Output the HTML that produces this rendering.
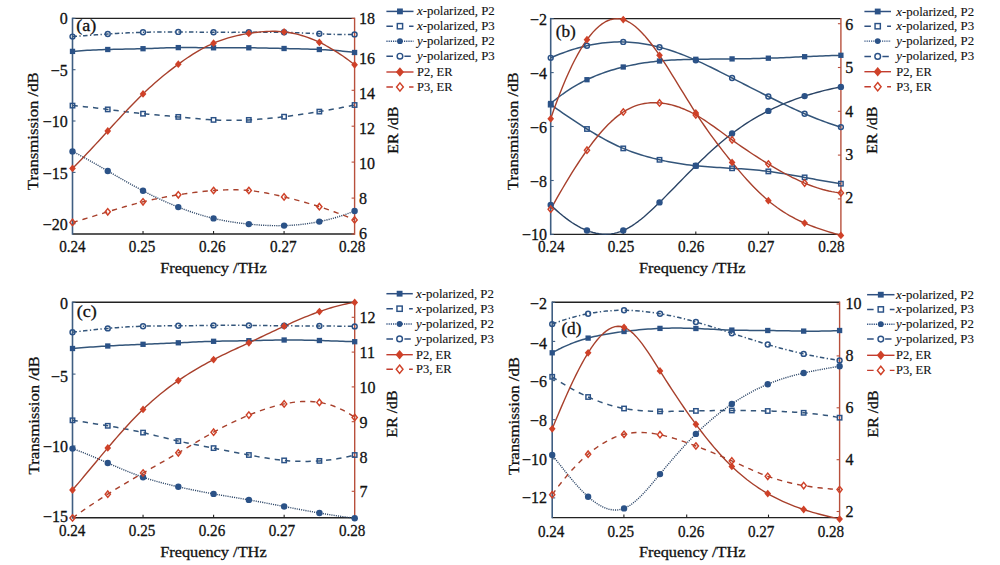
<!DOCTYPE html><html><head><meta charset="utf-8"><title>Transmission and ER vs frequency</title><style>html,body{margin:0;padding:0;background:#fff;}body{width:1000px;height:565px;overflow:hidden}svg{display:block}text{font-family:"Liberation Serif","DejaVu Serif",serif;fill:#111;stroke:#111;stroke-width:0.3px}.lg{stroke-width:0.12px}</style></head><body>
<svg width="1000" height="565" viewBox="0 0 1000 565">
<rect width="1000" height="565" fill="#fff"/>
<defs>
<clipPath id="clipa"><rect x="72.5" y="17.4" width="282.1" height="217.6"/></clipPath>
<clipPath id="clipb"><rect x="550.7" y="17.6" width="290.2" height="217.8"/></clipPath>
<clipPath id="clipc"><rect x="72.5" y="301.3" width="282.2" height="217.5"/></clipPath>
<clipPath id="clipd"><rect x="552.2" y="301.3" width="287.4" height="217.3"/></clipPath>
</defs>
<g id="plot-a"><line x1="72.5" y1="18.4" x2="354.6" y2="18.4" stroke="#222" stroke-width="1.4"/><line x1="72.5" y1="234" x2="354.6" y2="234" stroke="#222" stroke-width="1.4"/><line x1="72.5" y1="17.7" x2="72.5" y2="234.7" stroke="#3f5e82" stroke-width="1.6"/><line x1="354.6" y1="17.7" x2="354.6" y2="234.7" stroke="#b8503c" stroke-width="1.4"/><line x1="143.03" y1="234" x2="143.03" y2="231" stroke="#222" stroke-width="1.1"/><line x1="213.55" y1="234" x2="213.55" y2="231" stroke="#222" stroke-width="1.1"/><line x1="284.08" y1="234" x2="284.08" y2="231" stroke="#222" stroke-width="1.1"/><line x1="72.5" y1="18.4" x2="75.5" y2="18.4" stroke="#3f5e82" stroke-width="1.1"/><line x1="72.5" y1="69.7" x2="75.5" y2="69.7" stroke="#3f5e82" stroke-width="1.1"/><line x1="72.5" y1="121" x2="75.5" y2="121" stroke="#3f5e82" stroke-width="1.1"/><line x1="72.5" y1="172.4" x2="75.5" y2="172.4" stroke="#3f5e82" stroke-width="1.1"/><line x1="72.5" y1="223.7" x2="75.5" y2="223.7" stroke="#3f5e82" stroke-width="1.1"/><line x1="354.6" y1="234" x2="351.6" y2="234" stroke="#b8503c" stroke-width="1.1"/><line x1="354.6" y1="198.1" x2="351.6" y2="198.1" stroke="#b8503c" stroke-width="1.1"/><line x1="354.6" y1="162.1" x2="351.6" y2="162.1" stroke="#b8503c" stroke-width="1.1"/><line x1="354.6" y1="126.2" x2="351.6" y2="126.2" stroke="#b8503c" stroke-width="1.1"/><line x1="354.6" y1="90.3" x2="351.6" y2="90.3" stroke="#b8503c" stroke-width="1.1"/><line x1="354.6" y1="54.3" x2="351.6" y2="54.3" stroke="#b8503c" stroke-width="1.1"/><line x1="354.6" y1="18.4" x2="351.6" y2="18.4" stroke="#b8503c" stroke-width="1.1"/><g clip-path="url(#clipa)" fill="none" stroke-linejoin="round"><polyline points="72.5,51.4 75.44,51.14 78.38,50.9 81.32,50.69 84.25,50.49 87.19,50.32 90.13,50.16 93.07,50.02 96.01,49.89 98.95,49.77 101.89,49.67 104.82,49.58 107.76,49.5 110.7,49.43 113.64,49.36 116.58,49.29 119.52,49.23 122.46,49.18 125.39,49.12 128.33,49.06 131.27,49 134.21,48.93 137.15,48.86 140.09,48.79 143.03,48.7 145.96,48.61 148.9,48.5 151.84,48.4 154.78,48.29 157.72,48.18 160.66,48.07 163.59,47.97 166.53,47.87 169.47,47.79 172.41,47.71 175.35,47.65 178.29,47.6 181.23,47.57 184.16,47.56 187.1,47.56 190.04,47.57 192.98,47.59 195.92,47.62 198.86,47.65 201.8,47.69 204.73,47.72 207.67,47.75 210.61,47.78 213.55,47.8 216.49,47.81 219.43,47.82 222.37,47.81 225.3,47.81 228.24,47.8 231.18,47.79 234.12,47.78 237.06,47.77 240,47.77 242.94,47.77 245.87,47.78 248.81,47.8 251.75,47.83 254.69,47.86 257.63,47.91 260.57,47.96 263.51,48.02 266.44,48.08 269.38,48.15 272.32,48.22 275.26,48.29 278.2,48.36 281.14,48.43 284.08,48.5 287.01,48.57 289.95,48.63 292.89,48.69 295.83,48.76 298.77,48.83 301.71,48.9 304.64,48.98 307.58,49.06 310.52,49.16 313.46,49.26 316.4,49.37 319.34,49.5 322.28,49.64 325.21,49.8 328.15,49.97 331.09,50.16 334.03,50.37 336.97,50.6 339.91,50.85 342.85,51.13 345.78,51.43 348.72,51.76 351.66,52.11 354.6,52.5" stroke="#33557a" stroke-width="1.5"/><polyline points="72.5,105.6 75.44,105.83 78.38,106.09 81.32,106.36 84.25,106.65 87.19,106.96 90.13,107.28 93.07,107.61 96.01,107.95 98.95,108.3 101.89,108.66 104.82,109.03 107.76,109.4 110.7,109.77 113.64,110.15 116.58,110.53 119.52,110.91 122.46,111.28 125.39,111.65 128.33,112.01 131.27,112.37 134.21,112.72 137.15,113.06 140.09,113.39 143.03,113.7 145.96,114 148.9,114.29 151.84,114.57 154.78,114.84 157.72,115.1 160.66,115.35 163.59,115.61 166.53,115.86 169.47,116.12 172.41,116.37 175.35,116.63 178.29,116.9 181.23,117.18 184.16,117.46 187.1,117.74 190.04,118.02 192.98,118.3 195.92,118.57 198.86,118.83 201.8,119.08 204.73,119.32 207.67,119.54 210.61,119.73 213.55,119.9 216.49,120.04 219.43,120.16 222.37,120.25 225.3,120.31 228.24,120.35 231.18,120.36 234.12,120.35 237.06,120.31 240,120.24 242.94,120.15 245.87,120.04 248.81,119.9 251.75,119.74 254.69,119.56 257.63,119.35 260.57,119.12 263.51,118.88 266.44,118.61 269.38,118.33 272.32,118.04 275.26,117.72 278.2,117.39 281.14,117.05 284.08,116.7 287.01,116.34 289.95,115.96 292.89,115.57 295.83,115.17 298.77,114.77 301.71,114.35 304.64,113.91 307.58,113.47 310.52,113.02 313.46,112.56 316.4,112.08 319.34,111.6 322.28,111.11 325.21,110.6 328.15,110.09 331.09,109.56 334.03,109.03 336.97,108.48 339.91,107.92 342.85,107.36 345.78,106.78 348.72,106.2 351.66,105.6 354.6,105" stroke="#33557a" stroke-width="1.5" stroke-dasharray="5.3 5.0"/><polyline points="72.5,151.4 75.44,152.92 78.38,154.47 81.32,156.05 84.25,157.65 87.19,159.27 90.13,160.91 93.07,162.56 96.01,164.23 98.95,165.91 101.89,167.6 104.82,169.3 107.76,171 110.7,172.7 113.64,174.4 116.58,176.1 119.52,177.79 122.46,179.47 125.39,181.14 128.33,182.8 131.27,184.44 134.21,186.07 137.15,187.67 140.09,189.25 143.03,190.8 145.96,192.33 148.9,193.82 151.84,195.29 154.78,196.73 157.72,198.13 160.66,199.51 163.59,200.86 166.53,202.17 169.47,203.45 172.41,204.7 175.35,205.92 178.29,207.1 181.23,208.25 184.16,209.36 187.1,210.44 190.04,211.48 192.98,212.49 195.92,213.45 198.86,214.38 201.8,215.27 204.73,216.11 207.67,216.92 210.61,217.68 213.55,218.4 216.49,219.08 219.43,219.71 222.37,220.3 225.3,220.85 228.24,221.37 231.18,221.85 234.12,222.3 237.06,222.72 240,223.1 242.94,223.46 245.87,223.79 248.81,224.1 251.75,224.38 254.69,224.64 257.63,224.88 260.57,225.09 263.51,225.27 266.44,225.42 269.38,225.53 272.32,225.62 275.26,225.67 278.2,225.68 281.14,225.66 284.08,225.6 287.01,225.5 289.95,225.36 292.89,225.17 295.83,224.95 298.77,224.68 301.71,224.37 304.64,224.02 307.58,223.63 310.52,223.19 313.46,222.7 316.4,222.17 319.34,221.6 322.28,220.98 325.21,220.31 328.15,219.6 331.09,218.84 334.03,218.03 336.97,217.18 339.91,216.27 342.85,215.32 345.78,214.31 348.72,213.26 351.66,212.16 354.6,211" stroke="#2a4466" stroke-width="1.4" stroke-dasharray="1.1 1.1"/><polyline points="72.5,36.6 75.44,36.36 78.38,36.13 81.32,35.9 84.25,35.67 87.19,35.44 90.13,35.22 93.07,35.01 96.01,34.79 98.95,34.59 101.89,34.39 104.82,34.19 107.76,34 110.7,33.82 113.64,33.64 116.58,33.47 119.52,33.31 122.46,33.15 125.39,33 128.33,32.86 131.27,32.73 134.21,32.61 137.15,32.5 140.09,32.39 143.03,32.3 145.96,32.22 148.9,32.14 151.84,32.08 154.78,32.03 157.72,31.98 160.66,31.94 163.59,31.92 166.53,31.9 169.47,31.89 172.41,31.88 175.35,31.89 178.29,31.9 181.23,31.92 184.16,31.94 187.1,31.97 190.04,32.01 192.98,32.04 195.92,32.08 198.86,32.12 201.8,32.16 204.73,32.2 207.67,32.24 210.61,32.27 213.55,32.3 216.49,32.32 219.43,32.34 222.37,32.36 225.3,32.37 228.24,32.37 231.18,32.38 234.12,32.37 237.06,32.37 240,32.35 242.94,32.34 245.87,32.32 248.81,32.3 251.75,32.28 254.69,32.25 257.63,32.22 260.57,32.2 263.51,32.18 266.44,32.17 269.38,32.16 272.32,32.16 275.26,32.18 278.2,32.2 281.14,32.24 284.08,32.3 287.01,32.37 289.95,32.46 292.89,32.57 295.83,32.68 298.77,32.81 301.71,32.94 304.64,33.08 307.58,33.23 310.52,33.37 313.46,33.52 316.4,33.66 319.34,33.8 322.28,33.93 325.21,34.06 328.15,34.17 331.09,34.27 334.03,34.36 336.97,34.43 339.91,34.48 342.85,34.52 345.78,34.53 348.72,34.51 351.66,34.47 354.6,34.4" stroke="#33557a" stroke-width="1.5" stroke-dasharray="4.5 2.4 1.3 2.4"/><polyline points="72.5,168.4 75.44,165.49 78.38,162.52 81.32,159.51 84.25,156.45 87.19,153.35 90.13,150.22 93.07,147.06 96.01,143.87 98.95,140.67 101.89,137.45 104.82,134.23 107.76,131 110.7,127.77 113.64,124.56 116.58,121.35 119.52,118.16 122.46,115 125.39,111.86 128.33,108.75 131.27,105.69 134.21,102.66 137.15,99.69 140.09,96.76 143.03,93.9 145.96,91.1 148.9,88.36 151.84,85.68 154.78,83.07 157.72,80.51 160.66,78.02 163.59,75.58 166.53,73.19 169.47,70.86 172.41,68.59 175.35,66.37 178.29,64.2 181.23,62.08 184.16,60.02 187.1,58.02 190.04,56.08 192.98,54.2 195.92,52.39 198.86,50.66 201.8,49 204.73,47.42 207.67,45.93 210.61,44.52 213.55,43.2 216.49,41.97 219.43,40.84 222.37,39.79 225.3,38.82 228.24,37.92 231.18,37.1 234.12,36.34 237.06,35.65 240,35.01 242.94,34.43 245.87,33.89 248.81,33.4 251.75,32.95 254.69,32.55 257.63,32.19 260.57,31.89 263.51,31.64 266.44,31.46 269.38,31.34 272.32,31.29 275.26,31.32 278.2,31.43 281.14,31.62 284.08,31.9 287.01,32.27 289.95,32.74 292.89,33.29 295.83,33.94 298.77,34.68 301.71,35.51 304.64,36.42 307.58,37.42 310.52,38.52 313.46,39.69 316.4,40.95 319.34,42.3 322.28,43.73 325.21,45.24 328.15,46.84 331.09,48.52 334.03,50.28 336.97,52.12 339.91,54.04 342.85,56.04 345.78,58.11 348.72,60.26 351.66,62.49 354.6,64.8" stroke="#a8402c" stroke-width="1.4"/><polyline points="72.5,222.4 75.44,221.57 78.38,220.73 81.32,219.87 84.25,219 87.19,218.12 90.13,217.23 93.07,216.33 96.01,215.43 98.95,214.52 101.89,213.61 104.82,212.7 107.76,211.8 110.7,210.9 113.64,210 116.58,209.12 119.52,208.24 122.46,207.38 125.39,206.52 128.33,205.69 131.27,204.87 134.21,204.07 137.15,203.29 140.09,202.53 143.03,201.8 145.96,201.09 148.9,200.41 151.84,199.76 154.78,199.13 157.72,198.52 160.66,197.93 163.59,197.36 166.53,196.81 169.47,196.28 172.41,195.77 175.35,195.28 178.29,194.8 181.23,194.34 184.16,193.89 187.1,193.46 190.04,193.04 192.98,192.65 195.92,192.27 198.86,191.92 201.8,191.59 204.73,191.28 207.67,190.99 210.61,190.73 213.55,190.5 216.49,190.29 219.43,190.12 222.37,189.97 225.3,189.86 228.24,189.79 231.18,189.75 234.12,189.76 237.06,189.81 240,189.91 242.94,190.05 245.87,190.25 248.81,190.5 251.75,190.81 254.69,191.16 257.63,191.57 260.57,192.03 263.51,192.52 266.44,193.06 269.38,193.63 272.32,194.23 275.26,194.86 278.2,195.52 281.14,196.2 284.08,196.9 287.01,197.62 289.95,198.35 292.89,199.1 295.83,199.86 298.77,200.64 301.71,201.45 304.64,202.27 307.58,203.11 310.52,203.98 313.46,204.86 316.4,205.77 319.34,206.7 322.28,207.65 325.21,208.63 328.15,209.64 331.09,210.66 334.03,211.72 336.97,212.8 339.91,213.91 342.85,215.05 345.78,216.22 348.72,217.41 351.66,218.64 354.6,219.9" stroke="#a8402c" stroke-width="1.4" stroke-dasharray="5.3 5.0"/></g><rect x="69.85" y="48.75" width="5.3" height="5.3" fill="#2b5287"/><rect x="105.11" y="46.85" width="5.3" height="5.3" fill="#2b5287"/><rect x="140.38" y="46.05" width="5.3" height="5.3" fill="#2b5287"/><rect x="175.64" y="44.95" width="5.3" height="5.3" fill="#2b5287"/><rect x="210.9" y="45.15" width="5.3" height="5.3" fill="#2b5287"/><rect x="246.16" y="45.15" width="5.3" height="5.3" fill="#2b5287"/><rect x="281.43" y="45.85" width="5.3" height="5.3" fill="#2b5287"/><rect x="316.69" y="46.85" width="5.3" height="5.3" fill="#2b5287"/><rect x="351.95" y="49.85" width="5.3" height="5.3" fill="#2b5287"/><rect x="70.3" y="103.4" width="4.4" height="4.4" fill="none" stroke="#2b5287" stroke-width="1.45"/><rect x="105.56" y="107.2" width="4.4" height="4.4" fill="none" stroke="#2b5287" stroke-width="1.45"/><rect x="140.83" y="111.5" width="4.4" height="4.4" fill="none" stroke="#2b5287" stroke-width="1.45"/><rect x="176.09" y="114.7" width="4.4" height="4.4" fill="none" stroke="#2b5287" stroke-width="1.45"/><rect x="211.35" y="117.7" width="4.4" height="4.4" fill="none" stroke="#2b5287" stroke-width="1.45"/><rect x="246.61" y="117.7" width="4.4" height="4.4" fill="none" stroke="#2b5287" stroke-width="1.45"/><rect x="281.88" y="114.5" width="4.4" height="4.4" fill="none" stroke="#2b5287" stroke-width="1.45"/><rect x="317.14" y="109.4" width="4.4" height="4.4" fill="none" stroke="#2b5287" stroke-width="1.45"/><rect x="352.4" y="102.8" width="4.4" height="4.4" fill="none" stroke="#2b5287" stroke-width="1.45"/><circle cx="72.5" cy="151.4" r="3.2" fill="#2b5287"/><circle cx="107.76" cy="171" r="3.2" fill="#2b5287"/><circle cx="143.03" cy="190.8" r="3.2" fill="#2b5287"/><circle cx="178.29" cy="207.1" r="3.2" fill="#2b5287"/><circle cx="213.55" cy="218.4" r="3.2" fill="#2b5287"/><circle cx="248.81" cy="224.1" r="3.2" fill="#2b5287"/><circle cx="284.08" cy="225.6" r="3.2" fill="#2b5287"/><circle cx="319.34" cy="221.6" r="3.2" fill="#2b5287"/><circle cx="354.6" cy="211" r="3.2" fill="#2b5287"/><circle cx="72.5" cy="36.6" r="2.45" fill="none" stroke="#2b5287" stroke-width="1.45"/><circle cx="107.76" cy="34" r="2.45" fill="none" stroke="#2b5287" stroke-width="1.45"/><circle cx="143.03" cy="32.3" r="2.45" fill="none" stroke="#2b5287" stroke-width="1.45"/><circle cx="178.29" cy="31.9" r="2.45" fill="none" stroke="#2b5287" stroke-width="1.45"/><circle cx="213.55" cy="32.3" r="2.45" fill="none" stroke="#2b5287" stroke-width="1.45"/><circle cx="248.81" cy="32.3" r="2.45" fill="none" stroke="#2b5287" stroke-width="1.45"/><circle cx="284.08" cy="32.3" r="2.45" fill="none" stroke="#2b5287" stroke-width="1.45"/><circle cx="319.34" cy="33.8" r="2.45" fill="none" stroke="#2b5287" stroke-width="1.45"/><circle cx="354.6" cy="34.4" r="2.45" fill="none" stroke="#2b5287" stroke-width="1.45"/><path d="M72.5 164.5L75.85 168.4L72.5 172.3L69.15 168.4Z" fill="#cf4128"/><path d="M107.76 127.1L111.11 131L107.76 134.9L104.41 131Z" fill="#cf4128"/><path d="M143.03 90L146.38 93.9L143.03 97.8L139.68 93.9Z" fill="#cf4128"/><path d="M178.29 60.3L181.64 64.2L178.29 68.1L174.94 64.2Z" fill="#cf4128"/><path d="M213.55 39.3L216.9 43.2L213.55 47.1L210.2 43.2Z" fill="#cf4128"/><path d="M248.81 29.5L252.16 33.4L248.81 37.3L245.46 33.4Z" fill="#cf4128"/><path d="M284.08 28L287.43 31.9L284.08 35.8L280.73 31.9Z" fill="#cf4128"/><path d="M319.34 38.4L322.69 42.3L319.34 46.2L315.99 42.3Z" fill="#cf4128"/><path d="M354.6 60.9L357.95 64.8L354.6 68.7L351.25 64.8Z" fill="#cf4128"/><path d="M72.5 219.2L75.1 222.4L72.5 225.6L69.9 222.4Z" fill="none" stroke="#cf4128" stroke-width="1.45"/><path d="M107.76 208.6L110.36 211.8L107.76 215L105.16 211.8Z" fill="none" stroke="#cf4128" stroke-width="1.45"/><path d="M143.03 198.6L145.62 201.8L143.03 205L140.43 201.8Z" fill="none" stroke="#cf4128" stroke-width="1.45"/><path d="M178.29 191.6L180.89 194.8L178.29 198L175.69 194.8Z" fill="none" stroke="#cf4128" stroke-width="1.45"/><path d="M213.55 187.3L216.15 190.5L213.55 193.7L210.95 190.5Z" fill="none" stroke="#cf4128" stroke-width="1.45"/><path d="M248.81 187.3L251.41 190.5L248.81 193.7L246.21 190.5Z" fill="none" stroke="#cf4128" stroke-width="1.45"/><path d="M284.08 193.7L286.68 196.9L284.08 200.1L281.48 196.9Z" fill="none" stroke="#cf4128" stroke-width="1.45"/><path d="M319.34 203.5L321.94 206.7L319.34 209.9L316.74 206.7Z" fill="none" stroke="#cf4128" stroke-width="1.45"/><path d="M354.6 216.7L357.2 219.9L354.6 223.1L352 219.9Z" fill="none" stroke="#cf4128" stroke-width="1.45"/><text x="67.8" y="24.35" font-size="16" text-anchor="end">0</text><text x="67.8" y="76.45" font-size="16" text-anchor="end">−5</text><text x="67.8" y="127.25" font-size="16" text-anchor="end">−10</text><text x="67.8" y="178.75" font-size="16" text-anchor="end">−15</text><text x="67.8" y="230.35" font-size="16" text-anchor="end">−20</text><text x="359" y="238.85" font-size="16">6</text><text x="359" y="204.45" font-size="16">8</text><text x="359" y="168.85" font-size="16">10</text><text x="359" y="134.35" font-size="16">12</text><text x="359" y="99.25" font-size="16">14</text><text x="359" y="63.95" font-size="16">16</text><text x="359" y="24.45" font-size="16">18</text><text x="72.4" y="251.95" font-size="16" text-anchor="middle" textLength="26.5" lengthAdjust="spacingAndGlyphs">0.24</text><text x="142.1" y="251.95" font-size="16" text-anchor="middle" textLength="26.5" lengthAdjust="spacingAndGlyphs">0.25</text><text x="212.3" y="251.95" font-size="16" text-anchor="middle" textLength="26.5" lengthAdjust="spacingAndGlyphs">0.26</text><text x="283.3" y="251.95" font-size="16" text-anchor="middle" textLength="26.5" lengthAdjust="spacingAndGlyphs">0.27</text><text x="352.2" y="251.95" font-size="16" text-anchor="middle" textLength="26.5" lengthAdjust="spacingAndGlyphs">0.28</text><text x="213.4" y="273.2" font-size="15" text-anchor="middle" textLength="106.5" lengthAdjust="spacingAndGlyphs">Frequency /THz</text><text transform="translate(37.8,131.2) rotate(-90)" x="0" y="0" font-size="15" text-anchor="middle" textLength="118" lengthAdjust="spacingAndGlyphs">Transmission /dB</text><text transform="translate(398.2,130.2) rotate(-90)" x="0" y="0" font-size="15" text-anchor="middle" textLength="47" lengthAdjust="spacingAndGlyphs">ER /dB</text><text x="76.2" y="30.7" font-size="16" textLength="20" lengthAdjust="spacingAndGlyphs">(a)</text><line x1="386.4" y1="11.4" x2="413.5" y2="11.4" stroke="#2f5080" stroke-width="1.5"/><rect x="397.03" y="8.48" width="5.83" height="5.83" fill="#2b5287"/><text x="417" y="15.4" class="lg" font-size="12.5" textLength="77.8" lengthAdjust="spacingAndGlyphs"><tspan font-style="italic">x</tspan>-polarized, P2</text><line x1="386.4" y1="26.2" x2="413.5" y2="26.2" stroke="#2f5080" stroke-width="1.5" stroke-dasharray="6.5 16.2 6"/><rect x="397.31" y="23.56" width="5.28" height="5.28" fill="none" stroke="#2b5287" stroke-width="1.45"/><text x="417" y="30.2" class="lg" font-size="12.5" textLength="77.8" lengthAdjust="spacingAndGlyphs"><tspan font-style="italic">x</tspan>-polarized, P3</text><line x1="386.4" y1="41.2" x2="413.5" y2="41.2" stroke="#2f5080" stroke-width="1.4" stroke-dasharray="1.2 1.0"/><circle cx="399.95" cy="41.2" r="2.88" fill="#2b5287"/><text x="417" y="45.2" class="lg" font-size="12.5" textLength="77.8" lengthAdjust="spacingAndGlyphs"><tspan font-style="italic">y</tspan>-polarized, P2</text><line x1="386.4" y1="56.2" x2="413.5" y2="56.2" stroke="#2f5080" stroke-width="1.5" stroke-dasharray="6.6 11.4 6.4 10"/><circle cx="399.95" cy="56.2" r="2.82" fill="none" stroke="#2b5287" stroke-width="1.45"/><text x="417" y="60.2" class="lg" font-size="12.5" textLength="77.8" lengthAdjust="spacingAndGlyphs"><tspan font-style="italic">y</tspan>-polarized, P3</text><line x1="386.4" y1="72" x2="413.5" y2="72" stroke="#c23c2e" stroke-width="1.4"/><path d="M399.95 67.32L403.97 72L399.95 76.68L395.93 72Z" fill="#cf4128"/><text x="417" y="76" class="lg" font-size="12.5" textLength="35.5" lengthAdjust="spacingAndGlyphs">P2, ER</text><line x1="386.4" y1="87" x2="413.5" y2="87" stroke="#c23c2e" stroke-width="1.4" stroke-dasharray="6.5 16.2 6"/><path d="M399.95 82.84L403.33 87L399.95 91.16L396.57 87Z" fill="none" stroke="#cf4128" stroke-width="1.45"/><text x="417" y="91" class="lg" font-size="12.5" textLength="35.5" lengthAdjust="spacingAndGlyphs">P3, ER</text></g>
<g id="plot-b"><line x1="550.7" y1="18.6" x2="840.9" y2="18.6" stroke="#222" stroke-width="1.4"/><line x1="550.7" y1="234.4" x2="840.9" y2="234.4" stroke="#222" stroke-width="1.4"/><line x1="550.7" y1="17.9" x2="550.7" y2="235.1" stroke="#3f5e82" stroke-width="1.6"/><line x1="840.9" y1="17.9" x2="840.9" y2="235.1" stroke="#b8503c" stroke-width="1.4"/><line x1="623.25" y1="234.4" x2="623.25" y2="231.4" stroke="#222" stroke-width="1.1"/><line x1="695.8" y1="234.4" x2="695.8" y2="231.4" stroke="#222" stroke-width="1.1"/><line x1="768.35" y1="234.4" x2="768.35" y2="231.4" stroke="#222" stroke-width="1.1"/><line x1="550.7" y1="18.6" x2="553.7" y2="18.6" stroke="#3f5e82" stroke-width="1.1"/><line x1="550.7" y1="72.6" x2="553.7" y2="72.6" stroke="#3f5e82" stroke-width="1.1"/><line x1="550.7" y1="126.5" x2="553.7" y2="126.5" stroke="#3f5e82" stroke-width="1.1"/><line x1="550.7" y1="180.5" x2="553.7" y2="180.5" stroke="#3f5e82" stroke-width="1.1"/><line x1="550.7" y1="234.4" x2="553.7" y2="234.4" stroke="#3f5e82" stroke-width="1.1"/><line x1="840.9" y1="23.7" x2="837.9" y2="23.7" stroke="#b8503c" stroke-width="1.1"/><line x1="840.9" y1="67.5" x2="837.9" y2="67.5" stroke="#b8503c" stroke-width="1.1"/><line x1="840.9" y1="111.3" x2="837.9" y2="111.3" stroke="#b8503c" stroke-width="1.1"/><line x1="840.9" y1="155.1" x2="837.9" y2="155.1" stroke="#b8503c" stroke-width="1.1"/><line x1="840.9" y1="198.9" x2="837.9" y2="198.9" stroke="#b8503c" stroke-width="1.1"/><g clip-path="url(#clipb)" fill="none" stroke-linejoin="round"><polyline points="550.7,103.5 553.72,100.97 556.75,98.55 559.77,96.24 562.79,94.02 565.81,91.91 568.84,89.9 571.86,87.98 574.88,86.15 577.91,84.41 580.93,82.76 583.95,81.19 586.98,79.7 590,78.29 593.02,76.95 596.04,75.68 599.07,74.48 602.09,73.35 605.11,72.28 608.14,71.26 611.16,70.31 614.18,69.41 617.2,68.56 620.23,67.76 623.25,67 626.27,66.29 629.3,65.61 632.32,64.98 635.34,64.39 638.36,63.84 641.39,63.32 644.41,62.85 647.43,62.41 650.46,62 653.48,61.64 656.5,61.3 659.52,61 662.55,60.73 665.57,60.49 668.59,60.28 671.62,60.1 674.64,59.94 677.66,59.8 680.69,59.68 683.71,59.58 686.73,59.49 689.75,59.42 692.78,59.36 695.8,59.3 698.82,59.25 701.85,59.21 704.87,59.17 707.89,59.13 710.91,59.1 713.94,59.07 716.96,59.04 719.98,59.01 723.01,58.99 726.03,58.96 729.05,58.93 732.08,58.9 735.1,58.87 738.12,58.83 741.14,58.79 744.17,58.75 747.19,58.7 750.21,58.64 753.24,58.59 756.26,58.52 759.28,58.45 762.3,58.37 765.33,58.29 768.35,58.2 771.37,58.1 774.4,58 777.42,57.88 780.44,57.76 783.46,57.64 786.49,57.51 789.51,57.38 792.53,57.25 795.56,57.11 798.58,56.98 801.6,56.84 804.62,56.7 807.65,56.56 810.67,56.43 813.69,56.29 816.72,56.16 819.74,56.03 822.76,55.91 825.79,55.79 828.81,55.68 831.83,55.57 834.85,55.47 837.88,55.38 840.9,55.3" stroke="#33557a" stroke-width="1.5"/><polyline points="550.7,104.6 553.72,106.71 556.75,108.82 559.77,110.92 562.79,113.01 565.81,115.08 568.84,117.14 571.86,119.18 574.88,121.2 577.91,123.19 580.93,125.16 583.95,127.09 586.98,129 590,130.87 593.02,132.7 596.04,134.5 599.07,136.25 602.09,137.95 605.11,139.61 608.14,141.22 611.16,142.77 614.18,144.27 617.2,145.71 620.23,147.09 623.25,148.4 626.27,149.65 629.3,150.83 632.32,151.96 635.34,153.02 638.36,154.03 641.39,154.99 644.41,155.9 647.43,156.76 650.46,157.58 653.48,158.36 656.5,159.09 659.52,159.8 662.55,160.47 665.57,161.11 668.59,161.72 671.62,162.3 674.64,162.85 677.66,163.36 680.69,163.84 683.71,164.3 686.73,164.72 689.75,165.11 692.78,165.47 695.8,165.8 698.82,166.1 701.85,166.37 704.87,166.62 707.89,166.85 710.91,167.06 713.94,167.26 716.96,167.44 719.98,167.62 723.01,167.79 726.03,167.96 729.05,168.13 732.08,168.3 735.1,168.48 738.12,168.67 741.14,168.86 744.17,169.07 747.19,169.3 750.21,169.54 753.24,169.79 756.26,170.07 759.28,170.37 762.3,170.69 765.33,171.03 768.35,171.4 771.37,171.8 774.4,172.22 777.42,172.67 780.44,173.14 783.46,173.62 786.49,174.13 789.51,174.65 792.53,175.18 795.56,175.73 798.58,176.28 801.6,176.84 804.62,177.4 807.65,177.96 810.67,178.53 813.69,179.09 816.72,179.65 819.74,180.2 822.76,180.75 825.79,181.28 828.81,181.8 831.83,182.3 834.85,182.79 837.88,183.25 840.9,183.7" stroke="#33557a" stroke-width="1.5"/><polyline points="550.7,205 553.72,207.88 556.75,210.64 559.77,213.28 562.79,215.79 565.81,218.16 568.84,220.38 571.86,222.47 574.88,224.4 577.91,226.17 580.93,227.78 583.95,229.23 586.98,230.5 590,231.6 593.02,232.51 596.04,233.24 599.07,233.77 602.09,234.11 605.11,234.24 608.14,234.17 611.16,233.88 614.18,233.38 617.2,232.65 620.23,231.69 623.25,230.5 626.27,229.07 629.3,227.43 632.32,225.57 635.34,223.53 638.36,221.32 641.39,218.95 644.41,216.44 647.43,213.81 650.46,211.08 653.48,208.25 656.5,205.35 659.52,202.4 662.55,199.41 665.57,196.38 668.59,193.32 671.62,190.25 674.64,187.16 677.66,184.07 680.69,180.97 683.71,177.88 686.73,174.8 689.75,171.74 692.78,168.71 695.8,165.7 698.82,162.73 701.85,159.8 704.87,156.92 707.89,154.08 710.91,151.3 713.94,148.57 716.96,145.89 719.98,143.28 723.01,140.73 726.03,138.25 729.05,135.84 732.08,133.5 735.1,131.24 738.12,129.06 741.14,126.95 744.17,124.91 747.19,122.94 750.21,121.03 753.24,119.19 756.26,117.42 759.28,115.7 762.3,114.05 765.33,112.45 768.35,110.9 771.37,109.41 774.4,107.96 777.42,106.57 780.44,105.23 783.46,103.93 786.49,102.68 789.51,101.48 792.53,100.32 795.56,99.2 798.58,98.13 801.6,97.09 804.62,96.1 807.65,95.15 810.67,94.23 813.69,93.35 816.72,92.51 819.74,91.7 822.76,90.92 825.79,90.17 828.81,89.46 831.83,88.78 834.85,88.13 837.88,87.5 840.9,86.9" stroke="#2a4466" stroke-width="1.4"/><polyline points="550.7,57.8 553.72,56.51 556.75,55.26 559.77,54.07 562.79,52.93 565.81,51.83 568.84,50.79 571.86,49.81 574.88,48.88 577.91,48 580.93,47.18 583.95,46.41 586.98,45.7 590,45.05 593.02,44.45 596.04,43.92 599.07,43.45 602.09,43.03 605.11,42.68 608.14,42.39 611.16,42.16 614.18,42 617.2,41.9 620.23,41.87 623.25,41.9 626.27,42 629.3,42.16 632.32,42.39 635.34,42.69 638.36,43.04 641.39,43.46 644.41,43.94 647.43,44.47 650.46,45.07 653.48,45.72 656.5,46.43 659.52,47.2 662.55,48.02 665.57,48.89 668.59,49.82 671.62,50.79 674.64,51.81 677.66,52.88 680.69,54 683.71,55.16 686.73,56.36 689.75,57.6 692.78,58.88 695.8,60.2 698.82,61.56 701.85,62.94 704.87,64.36 707.89,65.81 710.91,67.28 713.94,68.77 716.96,70.28 719.98,71.81 723.01,73.35 726.03,74.89 729.05,76.44 732.08,78 735.1,79.56 738.12,81.11 741.14,82.66 744.17,84.22 747.19,85.77 750.21,87.31 753.24,88.86 756.26,90.4 759.28,91.93 762.3,93.46 765.33,94.98 768.35,96.5 771.37,98.01 774.4,99.51 777.42,101 780.44,102.48 783.46,103.95 786.49,105.4 789.51,106.83 792.53,108.25 795.56,109.65 798.58,111.02 801.6,112.37 804.62,113.7 807.65,115 810.67,116.27 813.69,117.52 816.72,118.73 819.74,119.91 822.76,121.05 825.79,122.16 828.81,123.23 831.83,124.26 834.85,125.25 837.88,126.2 840.9,127.1" stroke="#33557a" stroke-width="1.5"/><polyline points="550.7,118.8 553.72,110.07 556.75,101.72 559.77,93.75 562.79,86.17 565.81,78.97 568.84,72.17 571.86,65.76 574.88,59.74 577.91,54.13 580.93,48.91 583.95,44.1 586.98,39.7 590,35.71 593.02,32.13 596.04,28.96 599.07,26.21 602.09,23.89 605.11,21.98 608.14,20.5 611.16,19.45 614.18,18.84 617.2,18.65 620.23,18.91 623.25,19.6 626.27,20.73 629.3,22.28 632.32,24.22 635.34,26.53 638.36,29.18 641.39,32.16 644.41,35.42 647.43,38.96 650.46,42.74 653.48,46.74 656.5,50.93 659.52,55.3 662.55,59.81 665.57,64.45 668.59,69.19 671.62,74.01 674.64,78.9 677.66,83.82 680.69,88.76 683.71,93.7 686.73,98.61 689.75,103.48 692.78,108.29 695.8,113 698.82,117.61 701.85,122.11 704.87,126.52 707.89,130.83 710.91,135.04 713.94,139.18 716.96,143.22 719.98,147.2 723.01,151.1 726.03,154.93 729.05,158.69 732.08,162.4 735.1,166.05 738.12,169.64 741.14,173.16 744.17,176.61 747.19,179.97 750.21,183.25 753.24,186.44 756.26,189.52 759.28,192.49 762.3,195.35 765.33,198.09 768.35,200.7 771.37,203.18 774.4,205.53 777.42,207.75 780.44,209.86 783.46,211.85 786.49,213.74 789.51,215.53 792.53,217.21 795.56,218.81 798.58,220.32 801.6,221.75 804.62,223.1 807.65,224.38 810.67,225.6 813.69,226.76 816.72,227.87 819.74,228.92 822.76,229.93 825.79,230.91 828.81,231.85 831.83,232.77 834.85,233.66 837.88,234.53 840.9,235.4" stroke="#a8402c" stroke-width="1.4"/><polyline points="550.7,209.2 553.72,203.8 556.75,198.47 559.77,193.2 562.79,188.01 565.81,182.91 568.84,177.9 571.86,172.99 574.88,168.19 577.91,163.5 580.93,158.94 583.95,154.5 586.98,150.2 590,146.05 593.02,142.04 596.04,138.2 599.07,134.52 602.09,131.02 605.11,127.7 608.14,124.57 611.16,121.63 614.18,118.9 617.2,116.38 620.23,114.08 623.25,112 626.27,110.15 629.3,108.53 632.32,107.13 635.34,105.94 638.36,104.94 641.39,104.14 644.41,103.52 647.43,103.08 650.46,102.81 653.48,102.69 656.5,102.72 659.52,102.9 662.55,103.21 665.57,103.66 668.59,104.23 671.62,104.93 674.64,105.76 677.66,106.71 680.69,107.78 683.71,108.98 686.73,110.29 689.75,111.71 692.78,113.25 695.8,114.9 698.82,116.66 701.85,118.51 704.87,120.46 707.89,122.47 710.91,124.55 713.94,126.68 716.96,128.85 719.98,131.05 723.01,133.27 726.03,135.49 729.05,137.7 732.08,139.9 735.1,142.07 738.12,144.21 741.14,146.32 744.17,148.4 747.19,150.45 750.21,152.47 753.24,154.47 756.26,156.43 759.28,158.37 762.3,160.27 765.33,162.15 768.35,164 771.37,165.82 774.4,167.61 777.42,169.36 780.44,171.08 783.46,172.76 786.49,174.39 789.51,175.97 792.53,177.51 795.56,178.99 798.58,180.42 801.6,181.79 804.62,183.1 807.65,184.34 810.67,185.52 813.69,186.62 816.72,187.66 819.74,188.61 822.76,189.49 825.79,190.28 828.81,190.99 831.83,191.61 834.85,192.13 837.88,192.57 840.9,192.9" stroke="#a8402c" stroke-width="1.4"/></g><rect x="548.05" y="100.85" width="5.3" height="5.3" fill="#2b5287"/><rect x="584.33" y="77.05" width="5.3" height="5.3" fill="#2b5287"/><rect x="620.6" y="64.35" width="5.3" height="5.3" fill="#2b5287"/><rect x="656.88" y="58.35" width="5.3" height="5.3" fill="#2b5287"/><rect x="693.15" y="56.65" width="5.3" height="5.3" fill="#2b5287"/><rect x="729.43" y="56.25" width="5.3" height="5.3" fill="#2b5287"/><rect x="765.7" y="55.55" width="5.3" height="5.3" fill="#2b5287"/><rect x="801.98" y="54.05" width="5.3" height="5.3" fill="#2b5287"/><rect x="838.25" y="52.65" width="5.3" height="5.3" fill="#2b5287"/><rect x="548.5" y="102.4" width="4.4" height="4.4" fill="none" stroke="#2b5287" stroke-width="1.45"/><rect x="584.77" y="126.8" width="4.4" height="4.4" fill="none" stroke="#2b5287" stroke-width="1.45"/><rect x="621.05" y="146.2" width="4.4" height="4.4" fill="none" stroke="#2b5287" stroke-width="1.45"/><rect x="657.32" y="157.6" width="4.4" height="4.4" fill="none" stroke="#2b5287" stroke-width="1.45"/><rect x="693.6" y="163.6" width="4.4" height="4.4" fill="none" stroke="#2b5287" stroke-width="1.45"/><rect x="729.88" y="166.1" width="4.4" height="4.4" fill="none" stroke="#2b5287" stroke-width="1.45"/><rect x="766.15" y="169.2" width="4.4" height="4.4" fill="none" stroke="#2b5287" stroke-width="1.45"/><rect x="802.42" y="175.2" width="4.4" height="4.4" fill="none" stroke="#2b5287" stroke-width="1.45"/><rect x="838.7" y="181.5" width="4.4" height="4.4" fill="none" stroke="#2b5287" stroke-width="1.45"/><circle cx="550.7" cy="205" r="3.2" fill="#2b5287"/><circle cx="586.98" cy="230.5" r="3.2" fill="#2b5287"/><circle cx="623.25" cy="230.5" r="3.2" fill="#2b5287"/><circle cx="659.52" cy="202.4" r="3.2" fill="#2b5287"/><circle cx="695.8" cy="165.7" r="3.2" fill="#2b5287"/><circle cx="732.08" cy="133.5" r="3.2" fill="#2b5287"/><circle cx="768.35" cy="110.9" r="3.2" fill="#2b5287"/><circle cx="804.62" cy="96.1" r="3.2" fill="#2b5287"/><circle cx="840.9" cy="86.9" r="3.2" fill="#2b5287"/><circle cx="550.7" cy="57.8" r="2.45" fill="none" stroke="#2b5287" stroke-width="1.45"/><circle cx="586.98" cy="45.7" r="2.45" fill="none" stroke="#2b5287" stroke-width="1.45"/><circle cx="623.25" cy="41.9" r="2.45" fill="none" stroke="#2b5287" stroke-width="1.45"/><circle cx="659.52" cy="47.2" r="2.45" fill="none" stroke="#2b5287" stroke-width="1.45"/><circle cx="695.8" cy="60.2" r="2.45" fill="none" stroke="#2b5287" stroke-width="1.45"/><circle cx="732.08" cy="78" r="2.45" fill="none" stroke="#2b5287" stroke-width="1.45"/><circle cx="768.35" cy="96.5" r="2.45" fill="none" stroke="#2b5287" stroke-width="1.45"/><circle cx="804.62" cy="113.7" r="2.45" fill="none" stroke="#2b5287" stroke-width="1.45"/><circle cx="840.9" cy="127.1" r="2.45" fill="none" stroke="#2b5287" stroke-width="1.45"/><path d="M550.7 114.9L554.05 118.8L550.7 122.7L547.35 118.8Z" fill="#cf4128"/><path d="M586.98 35.8L590.33 39.7L586.98 43.6L583.62 39.7Z" fill="#cf4128"/><path d="M623.25 15.7L626.6 19.6L623.25 23.5L619.9 19.6Z" fill="#cf4128"/><path d="M659.52 51.4L662.88 55.3L659.52 59.2L656.17 55.3Z" fill="#cf4128"/><path d="M695.8 109.1L699.15 113L695.8 116.9L692.45 113Z" fill="#cf4128"/><path d="M732.08 158.5L735.43 162.4L732.08 166.3L728.73 162.4Z" fill="#cf4128"/><path d="M768.35 196.8L771.7 200.7L768.35 204.6L765 200.7Z" fill="#cf4128"/><path d="M804.62 219.2L807.98 223.1L804.62 227L801.27 223.1Z" fill="#cf4128"/><path d="M840.9 231.5L844.25 235.4L840.9 239.3L837.55 235.4Z" fill="#cf4128"/><path d="M550.7 206L553.3 209.2L550.7 212.4L548.1 209.2Z" fill="none" stroke="#cf4128" stroke-width="1.45"/><path d="M586.98 147L589.58 150.2L586.98 153.4L584.38 150.2Z" fill="none" stroke="#cf4128" stroke-width="1.45"/><path d="M623.25 108.8L625.85 112L623.25 115.2L620.65 112Z" fill="none" stroke="#cf4128" stroke-width="1.45"/><path d="M659.52 99.7L662.12 102.9L659.52 106.1L656.92 102.9Z" fill="none" stroke="#cf4128" stroke-width="1.45"/><path d="M695.8 111.7L698.4 114.9L695.8 118.1L693.2 114.9Z" fill="none" stroke="#cf4128" stroke-width="1.45"/><path d="M732.08 136.7L734.68 139.9L732.08 143.1L729.48 139.9Z" fill="none" stroke="#cf4128" stroke-width="1.45"/><path d="M768.35 160.8L770.95 164L768.35 167.2L765.75 164Z" fill="none" stroke="#cf4128" stroke-width="1.45"/><path d="M804.62 179.9L807.23 183.1L804.62 186.3L802.02 183.1Z" fill="none" stroke="#cf4128" stroke-width="1.45"/><path d="M840.9 189.7L843.5 192.9L840.9 196.1L838.3 192.9Z" fill="none" stroke="#cf4128" stroke-width="1.45"/><text x="547" y="24.75" font-size="16" text-anchor="end">−2</text><text x="547" y="79.45" font-size="16" text-anchor="end">−4</text><text x="547" y="132.75" font-size="16" text-anchor="end">−6</text><text x="547" y="186.85" font-size="16" text-anchor="end">−8</text><text x="547" y="239.55" font-size="16" text-anchor="end">−10</text><text x="845.2" y="30.25" font-size="16">6</text><text x="845.2" y="72.65" font-size="16">5</text><text x="845.2" y="117.45" font-size="16">4</text><text x="845.2" y="159.95" font-size="16">3</text><text x="845.2" y="203.35" font-size="16">2</text><text x="551.3" y="251.75" font-size="16" text-anchor="middle" textLength="26.5" lengthAdjust="spacingAndGlyphs">0.24</text><text x="621" y="251.75" font-size="16" text-anchor="middle" textLength="26.5" lengthAdjust="spacingAndGlyphs">0.25</text><text x="691.2" y="251.75" font-size="16" text-anchor="middle" textLength="26.5" lengthAdjust="spacingAndGlyphs">0.26</text><text x="761" y="251.75" font-size="16" text-anchor="middle" textLength="26.5" lengthAdjust="spacingAndGlyphs">0.27</text><text x="831.4" y="251.75" font-size="16" text-anchor="middle" textLength="26.5" lengthAdjust="spacingAndGlyphs">0.28</text><text x="692.2" y="272.8" font-size="15" text-anchor="middle" textLength="106.5" lengthAdjust="spacingAndGlyphs">Frequency /THz</text><text transform="translate(518.2,131.2) rotate(-90)" x="0" y="0" font-size="15" text-anchor="middle" textLength="118" lengthAdjust="spacingAndGlyphs">Transmission /dB</text><text transform="translate(877,130.2) rotate(-90)" x="0" y="0" font-size="15" text-anchor="middle" textLength="47" lengthAdjust="spacingAndGlyphs">ER /dB</text><text x="555.7" y="37" font-size="16" textLength="20" lengthAdjust="spacingAndGlyphs">(b)</text><line x1="864.4" y1="11.5" x2="891" y2="11.5" stroke="#2f5080" stroke-width="1.5"/><rect x="874.79" y="8.59" width="5.83" height="5.83" fill="#2b5287"/><text x="896.3" y="15.5" class="lg" font-size="12.5" textLength="77.8" lengthAdjust="spacingAndGlyphs"><tspan font-style="italic">x</tspan>-polarized, P2</text><line x1="864.4" y1="26.2" x2="891" y2="26.2" stroke="#2f5080" stroke-width="1.5" stroke-dasharray="6.5 16.2 6"/><rect x="875.06" y="23.56" width="5.28" height="5.28" fill="none" stroke="#2b5287" stroke-width="1.45"/><text x="896.3" y="30.2" class="lg" font-size="12.5" textLength="77.8" lengthAdjust="spacingAndGlyphs"><tspan font-style="italic">x</tspan>-polarized, P3</text><line x1="864.4" y1="41.1" x2="891" y2="41.1" stroke="#2f5080" stroke-width="1.4" stroke-dasharray="1.2 1.0"/><circle cx="877.7" cy="41.1" r="2.88" fill="#2b5287"/><text x="896.3" y="45.1" class="lg" font-size="12.5" textLength="77.8" lengthAdjust="spacingAndGlyphs"><tspan font-style="italic">y</tspan>-polarized, P2</text><line x1="864.4" y1="56.4" x2="891" y2="56.4" stroke="#2f5080" stroke-width="1.5" stroke-dasharray="6.6 11.4 6.4 10"/><circle cx="877.7" cy="56.4" r="2.82" fill="none" stroke="#2b5287" stroke-width="1.45"/><text x="896.3" y="60.4" class="lg" font-size="12.5" textLength="77.8" lengthAdjust="spacingAndGlyphs"><tspan font-style="italic">y</tspan>-polarized, P3</text><line x1="864.4" y1="71.7" x2="891" y2="71.7" stroke="#c23c2e" stroke-width="1.4"/><path d="M877.7 67.02L881.72 71.7L877.7 76.38L873.68 71.7Z" fill="#cf4128"/><text x="896.3" y="75.7" class="lg" font-size="12.5" textLength="35.5" lengthAdjust="spacingAndGlyphs">P2, ER</text><line x1="864.4" y1="86.7" x2="891" y2="86.7" stroke="#c23c2e" stroke-width="1.4" stroke-dasharray="6.5 16.2 6"/><path d="M877.7 82.54L881.08 86.7L877.7 90.86L874.32 86.7Z" fill="none" stroke="#cf4128" stroke-width="1.45"/><text x="896.3" y="90.7" class="lg" font-size="12.5" textLength="35.5" lengthAdjust="spacingAndGlyphs">P3, ER</text></g>
<g id="plot-c"><line x1="72.5" y1="302.3" x2="354.7" y2="302.3" stroke="#222" stroke-width="1.4"/><line x1="72.5" y1="517.8" x2="354.7" y2="517.8" stroke="#222" stroke-width="1.4"/><line x1="72.5" y1="301.6" x2="72.5" y2="518.5" stroke="#3f5e82" stroke-width="1.6"/><line x1="354.7" y1="301.6" x2="354.7" y2="518.5" stroke="#b8503c" stroke-width="1.4"/><line x1="143.05" y1="517.8" x2="143.05" y2="514.8" stroke="#222" stroke-width="1.1"/><line x1="213.6" y1="517.8" x2="213.6" y2="514.8" stroke="#222" stroke-width="1.1"/><line x1="284.15" y1="517.8" x2="284.15" y2="514.8" stroke="#222" stroke-width="1.1"/><line x1="72.5" y1="302.3" x2="75.5" y2="302.3" stroke="#3f5e82" stroke-width="1.1"/><line x1="72.5" y1="374.1" x2="75.5" y2="374.1" stroke="#3f5e82" stroke-width="1.1"/><line x1="72.5" y1="446" x2="75.5" y2="446" stroke="#3f5e82" stroke-width="1.1"/><line x1="72.5" y1="517.8" x2="75.5" y2="517.8" stroke="#3f5e82" stroke-width="1.1"/><line x1="354.7" y1="317.3" x2="351.7" y2="317.3" stroke="#b8503c" stroke-width="1.1"/><line x1="354.7" y1="352.1" x2="351.7" y2="352.1" stroke="#b8503c" stroke-width="1.1"/><line x1="354.7" y1="386.9" x2="351.7" y2="386.9" stroke="#b8503c" stroke-width="1.1"/><line x1="354.7" y1="421.7" x2="351.7" y2="421.7" stroke="#b8503c" stroke-width="1.1"/><line x1="354.7" y1="456.5" x2="351.7" y2="456.5" stroke="#b8503c" stroke-width="1.1"/><line x1="354.7" y1="491.3" x2="351.7" y2="491.3" stroke="#b8503c" stroke-width="1.1"/><g clip-path="url(#clipc)" fill="none" stroke-linejoin="round"><polyline points="72.5,348.5 75.44,348.25 78.38,348 81.32,347.77 84.26,347.54 87.2,347.32 90.14,347.11 93.08,346.91 96.02,346.72 98.96,346.53 101.9,346.35 104.84,346.17 107.78,346 110.71,345.84 113.65,345.68 116.59,345.52 119.53,345.37 122.47,345.23 125.41,345.09 128.35,344.95 131.29,344.81 134.23,344.68 137.17,344.55 140.11,344.43 143.05,344.3 145.99,344.18 148.93,344.05 151.87,343.93 154.81,343.81 157.75,343.69 160.69,343.57 163.63,343.44 166.57,343.32 169.51,343.19 172.45,343.06 175.39,342.93 178.32,342.8 181.26,342.66 184.2,342.52 187.14,342.38 190.08,342.24 193.02,342.11 195.96,341.97 198.9,341.84 201.84,341.72 204.78,341.6 207.72,341.49 210.66,341.39 213.6,341.3 216.54,341.22 219.48,341.15 222.42,341.1 225.36,341.04 228.3,341 231.24,340.96 234.18,340.92 237.12,340.88 240.06,340.84 243,340.8 245.94,340.75 248.88,340.7 251.81,340.64 254.75,340.58 257.69,340.51 260.63,340.44 263.57,340.37 266.51,340.3 269.45,340.23 272.39,340.17 275.33,340.11 278.27,340.07 281.21,340.03 284.15,340 287.09,339.99 290.03,339.98 292.97,339.99 295.91,340.02 298.85,340.05 301.79,340.09 304.73,340.14 307.67,340.2 310.61,340.26 313.55,340.34 316.49,340.42 319.42,340.5 322.36,340.59 325.3,340.68 328.24,340.78 331.18,340.88 334.12,340.98 337.06,341.09 340,341.19 342.94,341.3 345.88,341.4 348.82,341.5 351.76,341.6 354.7,341.7" stroke="#33557a" stroke-width="1.5"/><polyline points="72.5,420.3 75.44,420.75 78.38,421.2 81.32,421.65 84.26,422.1 87.2,422.55 90.14,423 93.08,423.45 96.02,423.91 98.96,424.37 101.9,424.84 104.84,425.32 107.78,425.8 110.71,426.29 113.65,426.8 116.59,427.31 119.53,427.84 122.47,428.38 125.41,428.93 128.35,429.5 131.29,430.08 134.23,430.68 137.17,431.3 140.11,431.94 143.05,432.6 145.99,433.28 148.93,433.98 151.87,434.69 154.81,435.41 157.75,436.13 160.69,436.86 163.63,437.59 166.57,438.32 169.51,439.03 172.45,439.74 175.39,440.43 178.32,441.1 181.26,441.75 184.2,442.38 187.14,442.99 190.08,443.59 193.02,444.17 195.96,444.74 198.9,445.31 201.84,445.87 204.78,446.43 207.72,446.98 210.66,447.54 213.6,448.1 216.54,448.67 219.48,449.24 222.42,449.82 225.36,450.4 228.3,450.98 231.24,451.56 234.18,452.14 237.12,452.72 240.06,453.3 243,453.87 245.94,454.44 248.88,455 251.81,455.55 254.75,456.1 257.69,456.62 260.63,457.14 263.57,457.64 266.51,458.11 269.45,458.57 272.39,458.99 275.33,459.39 278.27,459.76 281.21,460.1 284.15,460.4 287.09,460.66 290.03,460.89 292.97,461.07 295.91,461.22 298.85,461.33 301.79,461.39 304.73,461.42 307.67,461.4 310.61,461.34 313.55,461.24 316.49,461.09 319.42,460.9 322.36,460.67 325.3,460.39 328.24,460.06 331.18,459.69 334.12,459.27 337.06,458.81 340,458.3 342.94,457.74 345.88,457.13 348.82,456.47 351.76,455.76 354.7,455" stroke="#33557a" stroke-width="1.5" stroke-dasharray="5.3 5.0"/><polyline points="72.5,448.6 75.44,449.66 78.38,450.75 81.32,451.88 84.26,453.04 87.2,454.23 90.14,455.44 93.08,456.67 96.02,457.92 98.96,459.18 101.9,460.45 104.84,461.72 107.78,463 110.71,464.28 113.65,465.55 116.59,466.81 119.53,468.06 122.47,469.3 125.41,470.51 128.35,471.71 131.29,472.87 134.23,474.01 137.17,475.11 140.11,476.18 143.05,477.2 145.99,478.18 148.93,479.12 151.87,480.02 154.81,480.88 157.75,481.71 160.69,482.51 163.63,483.28 166.57,484.03 169.51,484.75 172.45,485.45 175.39,486.13 178.32,486.8 181.26,487.46 184.2,488.1 187.14,488.73 190.08,489.35 193.02,489.96 195.96,490.56 198.9,491.14 201.84,491.72 204.78,492.28 207.72,492.83 210.66,493.37 213.6,493.9 216.54,494.42 219.48,494.93 222.42,495.43 225.36,495.93 228.3,496.42 231.24,496.91 234.18,497.4 237.12,497.89 240.06,498.39 243,498.89 245.94,499.39 248.88,499.9 251.81,500.42 254.75,500.95 257.69,501.48 260.63,502.03 263.57,502.57 266.51,503.13 269.45,503.68 272.39,504.24 275.33,504.81 278.27,505.37 281.21,505.94 284.15,506.5 287.09,507.06 290.03,507.63 292.97,508.18 295.91,508.74 298.85,509.29 301.79,509.84 304.73,510.38 307.67,510.92 310.61,511.45 313.55,511.98 316.49,512.49 319.42,513 322.36,513.5 325.3,513.99 328.24,514.47 331.18,514.93 334.12,515.39 337.06,515.83 340,516.26 342.94,516.68 345.88,517.08 348.82,517.47 351.76,517.84 354.7,518.2" stroke="#2a4466" stroke-width="1.4" stroke-dasharray="1.1 1.1"/><polyline points="72.5,332.2 75.44,331.84 78.38,331.49 81.32,331.15 84.26,330.81 87.2,330.48 90.14,330.16 93.08,329.84 96.02,329.53 98.96,329.24 101.9,328.95 104.84,328.67 107.78,328.4 110.71,328.14 113.65,327.9 116.59,327.66 119.53,327.44 122.47,327.24 125.41,327.04 128.35,326.86 131.29,326.7 134.23,326.55 137.17,326.42 140.11,326.3 143.05,326.2 145.99,326.12 148.93,326.05 151.87,325.99 154.81,325.95 157.75,325.92 160.69,325.89 163.63,325.87 166.57,325.86 169.51,325.85 172.45,325.83 175.39,325.82 178.32,325.8 181.26,325.78 184.2,325.75 187.14,325.72 190.08,325.68 193.02,325.65 195.96,325.61 198.9,325.57 201.84,325.53 204.78,325.49 207.72,325.46 210.66,325.43 213.6,325.4 216.54,325.38 219.48,325.36 222.42,325.34 225.36,325.33 228.3,325.33 231.24,325.32 234.18,325.33 237.12,325.33 240.06,325.34 243,325.36 245.94,325.38 248.88,325.4 251.81,325.43 254.75,325.46 257.69,325.49 260.63,325.52 263.57,325.56 266.51,325.6 269.45,325.63 272.39,325.67 275.33,325.7 278.27,325.74 281.21,325.77 284.15,325.8 287.09,325.83 290.03,325.85 292.97,325.87 295.91,325.89 298.85,325.9 301.79,325.92 304.73,325.93 307.67,325.95 310.61,325.96 313.55,325.97 316.49,325.99 319.42,326 322.36,326.02 325.3,326.03 328.24,326.05 331.18,326.08 334.12,326.1 337.06,326.13 340,326.16 342.94,326.2 345.88,326.24 348.82,326.29 351.76,326.34 354.7,326.4" stroke="#33557a" stroke-width="1.5" stroke-dasharray="4.5 2.4 1.3 2.4"/><polyline points="72.5,490 75.44,486.55 78.38,483.08 81.32,479.58 84.26,476.07 87.2,472.54 90.14,469.01 93.08,465.47 96.02,461.94 98.96,458.41 101.9,454.89 104.84,451.38 107.78,447.9 110.71,444.44 113.65,441.01 116.59,437.62 119.53,434.26 122.47,430.95 125.41,427.69 128.35,424.48 131.29,421.33 134.23,418.24 137.17,415.22 140.11,412.27 143.05,409.4 145.99,406.61 148.93,403.9 151.87,401.26 154.81,398.7 157.75,396.21 160.69,393.79 163.63,391.44 166.57,389.15 169.51,386.93 172.45,384.76 175.39,382.65 178.32,380.6 181.26,378.6 184.2,376.65 187.14,374.75 190.08,372.9 193.02,371.09 195.96,369.33 198.9,367.61 201.84,365.93 204.78,364.29 207.72,362.69 210.66,361.13 213.6,359.6 216.54,358.1 219.48,356.64 222.42,355.19 225.36,353.78 228.3,352.37 231.24,350.99 234.18,349.62 237.12,348.25 240.06,346.89 243,345.53 245.94,344.17 248.88,342.8 251.81,341.42 254.75,340.04 257.69,338.65 260.63,337.25 263.57,335.86 266.51,334.46 269.45,333.07 272.39,331.68 275.33,330.29 278.27,328.92 281.21,327.55 284.15,326.2 287.09,324.86 290.03,323.54 292.97,322.23 295.91,320.94 298.85,319.68 301.79,318.44 304.73,317.22 307.67,316.03 310.61,314.88 313.55,313.75 316.49,312.66 319.42,311.6 322.36,310.58 325.3,309.6 328.24,308.66 331.18,307.77 334.12,306.92 337.06,306.11 340,305.36 342.94,304.66 345.88,304.01 348.82,303.41 351.76,302.88 354.7,302.4" stroke="#a8402c" stroke-width="1.4"/><polyline points="72.5,518 75.44,515.89 78.38,513.8 81.32,511.74 84.26,509.7 87.2,507.69 90.14,505.7 93.08,503.73 96.02,501.78 98.96,499.86 101.9,497.95 104.84,496.07 107.78,494.2 110.71,492.35 113.65,490.52 116.59,488.7 119.53,486.91 122.47,485.12 125.41,483.35 128.35,481.6 131.29,479.85 134.23,478.12 137.17,476.41 140.11,474.7 143.05,473 145.99,471.31 148.93,469.63 151.87,467.96 154.81,466.28 157.75,464.61 160.69,462.94 163.63,461.27 166.57,459.59 169.51,457.91 172.45,456.22 175.39,454.51 178.32,452.8 181.26,451.07 184.2,449.33 187.14,447.59 190.08,445.84 193.02,444.1 195.96,442.35 198.9,440.62 201.84,438.9 204.78,437.19 207.72,435.5 210.66,433.84 213.6,432.2 216.54,430.59 219.48,429.02 222.42,427.47 225.36,425.96 228.3,424.48 231.24,423.03 234.18,421.62 237.12,420.24 240.06,418.9 243,417.6 245.94,416.33 248.88,415.1 251.81,413.91 254.75,412.76 257.69,411.65 260.63,410.58 263.57,409.56 266.51,408.59 269.45,407.67 272.39,406.8 275.33,405.99 278.27,405.24 281.21,404.54 284.15,403.9 287.09,403.33 290.03,402.82 292.97,402.38 295.91,402.02 298.85,401.74 301.79,401.55 304.73,401.44 307.67,401.43 310.61,401.51 313.55,401.7 316.49,402 319.42,402.4 322.36,402.92 325.3,403.56 328.24,404.32 331.18,405.21 334.12,406.24 337.06,407.4 340,408.71 342.94,410.15 345.88,411.75 348.82,413.51 351.76,415.42 354.7,417.5" stroke="#a8402c" stroke-width="1.4" stroke-dasharray="5.3 5.0"/></g><rect x="69.85" y="345.85" width="5.3" height="5.3" fill="#2b5287"/><rect x="105.12" y="343.35" width="5.3" height="5.3" fill="#2b5287"/><rect x="140.4" y="341.65" width="5.3" height="5.3" fill="#2b5287"/><rect x="175.67" y="340.15" width="5.3" height="5.3" fill="#2b5287"/><rect x="210.95" y="338.65" width="5.3" height="5.3" fill="#2b5287"/><rect x="246.22" y="338.05" width="5.3" height="5.3" fill="#2b5287"/><rect x="281.5" y="337.35" width="5.3" height="5.3" fill="#2b5287"/><rect x="316.77" y="337.85" width="5.3" height="5.3" fill="#2b5287"/><rect x="352.05" y="339.05" width="5.3" height="5.3" fill="#2b5287"/><rect x="70.3" y="418.1" width="4.4" height="4.4" fill="none" stroke="#2b5287" stroke-width="1.45"/><rect x="105.58" y="423.6" width="4.4" height="4.4" fill="none" stroke="#2b5287" stroke-width="1.45"/><rect x="140.85" y="430.4" width="4.4" height="4.4" fill="none" stroke="#2b5287" stroke-width="1.45"/><rect x="176.12" y="438.9" width="4.4" height="4.4" fill="none" stroke="#2b5287" stroke-width="1.45"/><rect x="211.4" y="445.9" width="4.4" height="4.4" fill="none" stroke="#2b5287" stroke-width="1.45"/><rect x="246.68" y="452.8" width="4.4" height="4.4" fill="none" stroke="#2b5287" stroke-width="1.45"/><rect x="281.95" y="458.2" width="4.4" height="4.4" fill="none" stroke="#2b5287" stroke-width="1.45"/><rect x="317.22" y="458.7" width="4.4" height="4.4" fill="none" stroke="#2b5287" stroke-width="1.45"/><rect x="352.5" y="452.8" width="4.4" height="4.4" fill="none" stroke="#2b5287" stroke-width="1.45"/><circle cx="72.5" cy="448.6" r="3.2" fill="#2b5287"/><circle cx="107.78" cy="463" r="3.2" fill="#2b5287"/><circle cx="143.05" cy="477.2" r="3.2" fill="#2b5287"/><circle cx="178.32" cy="486.8" r="3.2" fill="#2b5287"/><circle cx="213.6" cy="493.9" r="3.2" fill="#2b5287"/><circle cx="248.88" cy="499.9" r="3.2" fill="#2b5287"/><circle cx="284.15" cy="506.5" r="3.2" fill="#2b5287"/><circle cx="319.42" cy="513" r="3.2" fill="#2b5287"/><circle cx="354.7" cy="518.2" r="3.2" fill="#2b5287"/><circle cx="72.5" cy="332.2" r="2.45" fill="none" stroke="#2b5287" stroke-width="1.45"/><circle cx="107.78" cy="328.4" r="2.45" fill="none" stroke="#2b5287" stroke-width="1.45"/><circle cx="143.05" cy="326.2" r="2.45" fill="none" stroke="#2b5287" stroke-width="1.45"/><circle cx="178.32" cy="325.8" r="2.45" fill="none" stroke="#2b5287" stroke-width="1.45"/><circle cx="213.6" cy="325.4" r="2.45" fill="none" stroke="#2b5287" stroke-width="1.45"/><circle cx="248.88" cy="325.4" r="2.45" fill="none" stroke="#2b5287" stroke-width="1.45"/><circle cx="284.15" cy="325.8" r="2.45" fill="none" stroke="#2b5287" stroke-width="1.45"/><circle cx="319.42" cy="326" r="2.45" fill="none" stroke="#2b5287" stroke-width="1.45"/><circle cx="354.7" cy="326.4" r="2.45" fill="none" stroke="#2b5287" stroke-width="1.45"/><path d="M72.5 486.1L75.85 490L72.5 493.9L69.15 490Z" fill="#cf4128"/><path d="M107.78 444L111.12 447.9L107.78 451.8L104.43 447.9Z" fill="#cf4128"/><path d="M143.05 405.5L146.4 409.4L143.05 413.3L139.7 409.4Z" fill="#cf4128"/><path d="M178.32 376.7L181.67 380.6L178.32 384.5L174.97 380.6Z" fill="#cf4128"/><path d="M213.6 355.7L216.95 359.6L213.6 363.5L210.25 359.6Z" fill="#cf4128"/><path d="M248.88 338.9L252.22 342.8L248.88 346.7L245.53 342.8Z" fill="#cf4128"/><path d="M284.15 322.3L287.5 326.2L284.15 330.1L280.8 326.2Z" fill="#cf4128"/><path d="M319.42 307.7L322.77 311.6L319.42 315.5L316.07 311.6Z" fill="#cf4128"/><path d="M354.7 298.5L358.05 302.4L354.7 306.3L351.35 302.4Z" fill="#cf4128"/><path d="M72.5 514.8L75.1 518L72.5 521.2L69.9 518Z" fill="none" stroke="#cf4128" stroke-width="1.45"/><path d="M107.78 491L110.38 494.2L107.78 497.4L105.18 494.2Z" fill="none" stroke="#cf4128" stroke-width="1.45"/><path d="M143.05 469.8L145.65 473L143.05 476.2L140.45 473Z" fill="none" stroke="#cf4128" stroke-width="1.45"/><path d="M178.32 449.6L180.92 452.8L178.32 456L175.72 452.8Z" fill="none" stroke="#cf4128" stroke-width="1.45"/><path d="M213.6 429L216.2 432.2L213.6 435.4L211 432.2Z" fill="none" stroke="#cf4128" stroke-width="1.45"/><path d="M248.88 411.9L251.47 415.1L248.88 418.3L246.28 415.1Z" fill="none" stroke="#cf4128" stroke-width="1.45"/><path d="M284.15 400.7L286.75 403.9L284.15 407.1L281.55 403.9Z" fill="none" stroke="#cf4128" stroke-width="1.45"/><path d="M319.42 399.2L322.02 402.4L319.42 405.6L316.82 402.4Z" fill="none" stroke="#cf4128" stroke-width="1.45"/><path d="M354.7 414.3L357.3 417.5L354.7 420.7L352.1 417.5Z" fill="none" stroke="#cf4128" stroke-width="1.45"/><text x="68" y="309.45" font-size="16" text-anchor="end">0</text><text x="68" y="382.05" font-size="16" text-anchor="end">−5</text><text x="68" y="452.45" font-size="16" text-anchor="end">−10</text><text x="68" y="521.55" font-size="16" text-anchor="end">−15</text><text x="359.6" y="323.35" font-size="16">12</text><text x="359.6" y="358.45" font-size="16">11</text><text x="359.6" y="393.45" font-size="16">10</text><text x="359.6" y="428.35" font-size="16">9</text><text x="359.6" y="463.15" font-size="16">8</text><text x="359.6" y="497.35" font-size="16">7</text><text x="72.2" y="536.35" font-size="16" text-anchor="middle" textLength="26.5" lengthAdjust="spacingAndGlyphs">0.24</text><text x="142.1" y="536.35" font-size="16" text-anchor="middle" textLength="26.5" lengthAdjust="spacingAndGlyphs">0.25</text><text x="212" y="536.35" font-size="16" text-anchor="middle" textLength="26.5" lengthAdjust="spacingAndGlyphs">0.26</text><text x="281.9" y="536.35" font-size="16" text-anchor="middle" textLength="26.5" lengthAdjust="spacingAndGlyphs">0.27</text><text x="352.2" y="536.35" font-size="16" text-anchor="middle" textLength="26.5" lengthAdjust="spacingAndGlyphs">0.28</text><text x="213.4" y="557.4" font-size="15" text-anchor="middle" textLength="106.5" lengthAdjust="spacingAndGlyphs">Frequency /THz</text><text transform="translate(38.6,415.4) rotate(-90)" x="0" y="0" font-size="15" text-anchor="middle" textLength="118" lengthAdjust="spacingAndGlyphs">Transmission /dB</text><text transform="translate(396.8,414) rotate(-90)" x="0" y="0" font-size="15" text-anchor="middle" textLength="47" lengthAdjust="spacingAndGlyphs">ER /dB</text><text x="76.7" y="316.5" font-size="16" textLength="20" lengthAdjust="spacingAndGlyphs">(c)</text><line x1="386.4" y1="293.7" x2="412.8" y2="293.7" stroke="#2f5080" stroke-width="1.5"/><rect x="396.69" y="290.78" width="5.83" height="5.83" fill="#2b5287"/><text x="416.1" y="297.7" class="lg" font-size="12.5" textLength="77.8" lengthAdjust="spacingAndGlyphs"><tspan font-style="italic">x</tspan>-polarized, P2</text><line x1="386.4" y1="308.7" x2="412.8" y2="308.7" stroke="#2f5080" stroke-width="1.5" stroke-dasharray="6.5 16.2 6"/><rect x="396.96" y="306.06" width="5.28" height="5.28" fill="none" stroke="#2b5287" stroke-width="1.45"/><text x="416.1" y="312.7" class="lg" font-size="12.5" textLength="77.8" lengthAdjust="spacingAndGlyphs"><tspan font-style="italic">x</tspan>-polarized, P3</text><line x1="386.4" y1="324" x2="412.8" y2="324" stroke="#2f5080" stroke-width="1.4" stroke-dasharray="1.2 1.0"/><circle cx="399.6" cy="324" r="2.88" fill="#2b5287"/><text x="416.1" y="328" class="lg" font-size="12.5" textLength="77.8" lengthAdjust="spacingAndGlyphs"><tspan font-style="italic">y</tspan>-polarized, P2</text><line x1="386.4" y1="338.9" x2="412.8" y2="338.9" stroke="#2f5080" stroke-width="1.5" stroke-dasharray="6.6 11.4 6.4 10"/><circle cx="399.6" cy="338.9" r="2.82" fill="none" stroke="#2b5287" stroke-width="1.45"/><text x="416.1" y="342.9" class="lg" font-size="12.5" textLength="77.8" lengthAdjust="spacingAndGlyphs"><tspan font-style="italic">y</tspan>-polarized, P3</text><line x1="386.4" y1="354.7" x2="412.8" y2="354.7" stroke="#c23c2e" stroke-width="1.4"/><path d="M399.6 350.02L403.62 354.7L399.6 359.38L395.58 354.7Z" fill="#cf4128"/><text x="416.1" y="358.7" class="lg" font-size="12.5" textLength="35.5" lengthAdjust="spacingAndGlyphs">P2, ER</text><line x1="386.4" y1="369.2" x2="412.8" y2="369.2" stroke="#c23c2e" stroke-width="1.4" stroke-dasharray="6.5 16.2 6"/><path d="M399.6 365.04L402.98 369.2L399.6 373.36L396.22 369.2Z" fill="none" stroke="#cf4128" stroke-width="1.45"/><text x="416.1" y="373.2" class="lg" font-size="12.5" textLength="35.5" lengthAdjust="spacingAndGlyphs">P3, ER</text></g>
<g id="plot-d"><line x1="552.2" y1="302.3" x2="839.6" y2="302.3" stroke="#222" stroke-width="1.4"/><line x1="552.2" y1="517.6" x2="839.6" y2="517.6" stroke="#222" stroke-width="1.4"/><line x1="552.2" y1="301.6" x2="552.2" y2="518.3" stroke="#3f5e82" stroke-width="1.6"/><line x1="839.6" y1="301.6" x2="839.6" y2="518.3" stroke="#b8503c" stroke-width="1.4"/><line x1="623.9" y1="517.6" x2="623.9" y2="514.6" stroke="#222" stroke-width="1.1"/><line x1="686.7" y1="517.6" x2="686.7" y2="514.6" stroke="#222" stroke-width="1.1"/><line x1="768.5" y1="517.6" x2="768.5" y2="514.6" stroke="#222" stroke-width="1.1"/><line x1="552.2" y1="302.3" x2="555.2" y2="302.3" stroke="#3f5e82" stroke-width="1.1"/><line x1="552.2" y1="341.4" x2="555.2" y2="341.4" stroke="#3f5e82" stroke-width="1.1"/><line x1="552.2" y1="380.6" x2="555.2" y2="380.6" stroke="#3f5e82" stroke-width="1.1"/><line x1="552.2" y1="419.7" x2="555.2" y2="419.7" stroke="#3f5e82" stroke-width="1.1"/><line x1="552.2" y1="458.8" x2="555.2" y2="458.8" stroke="#3f5e82" stroke-width="1.1"/><line x1="552.2" y1="497.9" x2="555.2" y2="497.9" stroke="#3f5e82" stroke-width="1.1"/><line x1="839.6" y1="304" x2="836.6" y2="304" stroke="#b8503c" stroke-width="1.1"/><line x1="839.6" y1="355.9" x2="836.6" y2="355.9" stroke="#b8503c" stroke-width="1.1"/><line x1="839.6" y1="407.8" x2="836.6" y2="407.8" stroke="#b8503c" stroke-width="1.1"/><line x1="839.6" y1="459.7" x2="836.6" y2="459.7" stroke="#b8503c" stroke-width="1.1"/><line x1="839.6" y1="511.5" x2="836.6" y2="511.5" stroke="#b8503c" stroke-width="1.1"/><g clip-path="url(#clipd)" fill="none" stroke-linejoin="round"><polyline points="552.2,352.8 555.19,351.12 558.19,349.54 561.18,348.05 564.18,346.64 567.17,345.32 570.16,344.07 573.16,342.91 576.15,341.81 579.14,340.79 582.14,339.83 585.13,338.94 588.12,338.1 591.12,337.32 594.11,336.59 597.11,335.92 600.1,335.29 603.09,334.7 606.09,334.15 609.08,333.64 612.08,333.16 615.07,332.71 618.06,332.28 621.06,331.88 624.05,331.5 627.04,331.13 630.04,330.79 633.03,330.45 636.03,330.14 639.02,329.85 642.01,329.57 645.01,329.32 648,329.09 650.99,328.88 653.99,328.7 656.98,328.54 659.98,328.4 662.97,328.29 665.96,328.21 668.96,328.14 671.95,328.11 674.94,328.09 677.94,328.09 680.93,328.12 683.93,328.16 686.92,328.22 689.91,328.3 692.91,328.39 695.9,328.5 698.89,328.62 701.89,328.75 704.88,328.89 707.88,329.04 710.87,329.19 713.86,329.34 716.86,329.49 719.85,329.63 722.84,329.77 725.84,329.89 728.83,330 731.83,330.1 734.82,330.18 737.81,330.24 740.81,330.29 743.8,330.33 746.79,330.36 749.79,330.38 752.78,330.4 755.78,330.42 758.77,330.43 761.76,330.45 764.76,330.47 767.75,330.5 770.74,330.54 773.74,330.58 776.73,330.63 779.73,330.68 782.72,330.74 785.71,330.8 788.71,330.86 791.7,330.91 794.69,330.97 797.69,331.02 800.68,331.06 803.68,331.1 806.67,331.13 809.66,331.15 812.66,331.16 815.65,331.15 818.64,331.14 821.64,331.1 824.63,331.05 827.62,330.98 830.62,330.9 833.61,330.79 836.61,330.66 839.6,330.5" stroke="#33557a" stroke-width="1.5"/><polyline points="552.2,376.8 555.19,378.78 558.19,380.71 561.18,382.59 564.18,384.42 567.17,386.19 570.16,387.9 573.16,389.56 576.15,391.17 579.14,392.71 582.14,394.2 585.13,395.63 588.12,397 591.12,398.31 594.11,399.56 597.11,400.74 600.1,401.87 603.09,402.93 606.09,403.92 609.08,404.85 612.08,405.72 615.07,406.51 618.06,407.24 621.06,407.91 624.05,408.5 627.04,409.02 630.04,409.48 633.03,409.88 636.03,410.22 639.02,410.51 642.01,410.75 645.01,410.94 648,411.1 650.99,411.22 653.99,411.3 656.98,411.36 659.98,411.4 662.97,411.42 665.96,411.42 668.96,411.4 671.95,411.37 674.94,411.33 677.94,411.28 680.93,411.23 683.93,411.17 686.92,411.1 689.91,411.03 692.91,410.96 695.9,410.9 698.89,410.84 701.89,410.78 704.88,410.73 707.88,410.68 710.87,410.64 713.86,410.6 716.86,410.57 719.85,410.54 722.84,410.52 725.84,410.51 728.83,410.5 731.83,410.5 734.82,410.51 737.81,410.52 740.81,410.54 743.8,410.56 746.79,410.59 749.79,410.63 752.78,410.68 755.78,410.73 758.77,410.79 761.76,410.85 764.76,410.92 767.75,411 770.74,411.08 773.74,411.18 776.73,411.28 779.73,411.39 782.72,411.51 785.71,411.65 788.71,411.8 791.7,411.96 794.69,412.14 797.69,412.34 800.68,412.56 803.68,412.8 806.67,413.06 809.66,413.34 812.66,413.65 815.65,413.98 818.64,414.34 821.64,414.73 824.63,415.14 827.62,415.59 830.62,416.07 833.61,416.58 836.61,417.12 839.6,417.7" stroke="#33557a" stroke-width="1.5" stroke-dasharray="5.3 5.0"/><polyline points="552.2,454.9 555.19,458.74 558.19,462.59 561.18,466.4 564.18,470.18 567.17,473.9 570.16,477.54 573.16,481.09 576.15,484.52 579.14,487.81 582.14,490.95 585.13,493.92 588.12,496.7 591.12,499.27 594.11,501.61 597.11,503.71 600.1,505.54 603.09,507.09 606.09,508.33 609.08,509.26 612.08,509.84 615.07,510.06 618.06,509.91 621.06,509.36 624.05,508.4 627.04,507.01 630.04,505.23 633.03,503.09 636.03,500.63 639.02,497.9 642.01,494.92 645.01,491.73 648,488.38 650.99,484.91 653.99,481.34 656.98,477.73 659.98,474.1 662.97,470.49 665.96,466.92 668.96,463.37 671.95,459.87 674.94,456.42 677.94,453.01 680.93,449.66 683.93,446.37 686.92,443.14 689.91,439.99 692.91,436.9 695.9,433.9 698.89,430.98 701.89,428.14 704.88,425.38 707.88,422.7 710.87,420.11 713.86,417.58 716.86,415.14 719.85,412.77 722.84,410.47 725.84,408.24 728.83,406.09 731.83,404 734.82,401.98 737.81,400.03 740.81,398.15 743.8,396.33 746.79,394.59 749.79,392.9 752.78,391.29 755.78,389.74 758.77,388.26 761.76,386.84 764.76,385.49 767.75,384.2 770.74,382.98 773.74,381.82 776.73,380.72 779.73,379.67 782.72,378.68 785.71,377.74 788.71,376.85 791.7,376 794.69,375.19 797.69,374.43 800.68,373.7 803.68,373 806.67,372.33 809.66,371.69 812.66,371.08 815.65,370.49 818.64,369.92 821.64,369.36 824.63,368.82 827.62,368.28 830.62,367.76 833.61,367.24 836.61,366.72 839.6,366.2" stroke="#2a4466" stroke-width="1.4" stroke-dasharray="1.1 1.1"/><polyline points="552.2,324.1 555.19,322.97 558.19,321.89 561.18,320.86 564.18,319.87 567.17,318.93 570.16,318.04 573.16,317.2 576.15,316.4 579.14,315.65 582.14,314.95 585.13,314.3 588.12,313.7 591.12,313.15 594.11,312.64 597.11,312.18 600.1,311.78 603.09,311.42 606.09,311.11 609.08,310.85 612.08,310.64 615.07,310.48 618.06,310.37 621.06,310.31 624.05,310.3 627.04,310.34 630.04,310.43 633.03,310.57 636.03,310.75 639.02,310.98 642.01,311.25 645.01,311.56 648,311.92 650.99,312.31 653.99,312.74 656.98,313.2 659.98,313.7 662.97,314.23 665.96,314.8 668.96,315.39 671.95,316.02 674.94,316.67 677.94,317.35 680.93,318.06 683.93,318.8 686.92,319.57 689.91,320.35 692.91,321.17 695.9,322 698.89,322.86 701.89,323.73 704.88,324.63 707.88,325.54 710.87,326.47 713.86,327.41 716.86,328.36 719.85,329.32 722.84,330.28 725.84,331.25 728.83,332.23 731.83,333.2 734.82,334.17 737.81,335.15 740.81,336.11 743.8,337.08 746.79,338.04 749.79,338.99 752.78,339.93 755.78,340.87 758.77,341.79 761.76,342.71 764.76,343.61 767.75,344.5 770.74,345.37 773.74,346.23 776.73,347.08 779.73,347.91 782.72,348.72 785.71,349.51 788.71,350.29 791.7,351.05 794.69,351.79 797.69,352.51 800.68,353.22 803.68,353.9 806.67,354.56 809.66,355.21 812.66,355.83 815.65,356.43 818.64,357.01 821.64,357.56 824.63,358.1 827.62,358.61 830.62,359.09 833.61,359.55 836.61,359.99 839.6,360.4" stroke="#33557a" stroke-width="1.5" stroke-dasharray="4.5 2.4 1.3 2.4"/><polyline points="552.2,428.8 555.19,421.56 558.19,414.41 561.18,407.36 564.18,400.44 567.17,393.68 570.16,387.11 573.16,380.73 576.15,374.59 579.14,368.7 582.14,363.09 585.13,357.78 588.12,352.8 591.12,348.17 594.11,343.91 597.11,340.05 600.1,336.62 603.09,333.63 606.09,331.12 609.08,329.1 612.08,327.6 615.07,326.65 618.06,326.26 621.06,326.47 624.05,327.3 627.04,328.75 630.04,330.79 633.03,333.36 636.03,336.4 639.02,339.86 642.01,343.67 645.01,347.79 648,352.15 650.99,356.69 653.99,361.37 656.98,366.13 659.98,370.9 662.97,375.64 665.96,380.34 668.96,385 671.95,389.61 674.94,394.16 677.94,398.66 680.93,403.1 683.93,407.48 686.92,411.79 689.91,416.03 692.91,420.2 695.9,424.3 698.89,428.32 701.89,432.25 704.88,436.1 707.88,439.86 710.87,443.53 713.86,447.11 716.86,450.58 719.85,453.96 722.84,457.23 725.84,460.4 728.83,463.46 731.83,466.4 734.82,469.23 737.81,471.94 740.81,474.55 743.8,477.05 746.79,479.45 749.79,481.74 752.78,483.94 755.78,486.05 758.77,488.06 761.76,489.99 764.76,491.84 767.75,493.6 770.74,495.29 773.74,496.9 776.73,498.43 779.73,499.9 782.72,501.3 785.71,502.64 788.71,503.92 791.7,505.14 794.69,506.31 797.69,507.42 800.68,508.48 803.68,509.5 806.67,510.47 809.66,511.41 812.66,512.3 815.65,513.16 818.64,513.98 821.64,514.78 824.63,515.55 827.62,516.3 830.62,517.02 833.61,517.73 836.61,518.42 839.6,519.1" stroke="#a8402c" stroke-width="1.4"/><polyline points="552.2,494.7 555.19,490.59 558.19,486.61 561.18,482.76 564.18,479.05 567.17,475.46 570.16,472.01 573.16,468.7 576.15,465.52 579.14,462.48 582.14,459.58 585.13,456.82 588.12,454.2 591.12,451.72 594.11,449.39 597.11,447.21 600.1,445.17 603.09,443.28 606.09,441.54 609.08,439.95 612.08,438.51 615.07,437.22 618.06,436.09 621.06,435.12 624.05,434.3 627.04,433.64 630.04,433.13 633.03,432.76 636.03,432.53 639.02,432.43 642.01,432.45 645.01,432.58 648,432.82 650.99,433.16 653.99,433.59 656.98,434.11 659.98,434.7 662.97,435.36 665.96,436.09 668.96,436.88 671.95,437.73 674.94,438.63 677.94,439.58 680.93,440.57 683.93,441.59 686.92,442.65 689.91,443.75 692.91,444.86 695.9,446 698.89,447.15 701.89,448.32 704.88,449.51 707.88,450.71 710.87,451.93 713.86,453.16 716.86,454.41 719.85,455.68 722.84,456.96 725.84,458.26 728.83,459.57 731.83,460.9 734.82,462.24 737.81,463.6 740.81,464.95 743.8,466.31 746.79,467.65 749.79,468.98 752.78,470.29 755.78,471.57 758.77,472.82 761.76,474.03 764.76,475.19 767.75,476.3 770.74,477.35 773.74,478.35 776.73,479.29 779.73,480.18 782.72,481.02 785.71,481.81 788.71,482.55 791.7,483.24 794.69,483.89 797.69,484.5 800.68,485.07 803.68,485.6 806.67,486.09 809.66,486.55 812.66,486.98 815.65,487.37 818.64,487.73 821.64,488.07 824.63,488.38 827.62,488.66 830.62,488.93 833.61,489.17 836.61,489.39 839.6,489.6" stroke="#a8402c" stroke-width="1.4" stroke-dasharray="5.3 5.0"/></g><rect x="549.55" y="350.15" width="5.3" height="5.3" fill="#2b5287"/><rect x="585.48" y="335.45" width="5.3" height="5.3" fill="#2b5287"/><rect x="621.4" y="328.85" width="5.3" height="5.3" fill="#2b5287"/><rect x="657.33" y="325.75" width="5.3" height="5.3" fill="#2b5287"/><rect x="693.25" y="325.85" width="5.3" height="5.3" fill="#2b5287"/><rect x="729.18" y="327.45" width="5.3" height="5.3" fill="#2b5287"/><rect x="765.1" y="327.85" width="5.3" height="5.3" fill="#2b5287"/><rect x="801.02" y="328.45" width="5.3" height="5.3" fill="#2b5287"/><rect x="836.95" y="327.85" width="5.3" height="5.3" fill="#2b5287"/><rect x="550" y="374.6" width="4.4" height="4.4" fill="none" stroke="#2b5287" stroke-width="1.45"/><rect x="585.92" y="394.8" width="4.4" height="4.4" fill="none" stroke="#2b5287" stroke-width="1.45"/><rect x="621.85" y="406.3" width="4.4" height="4.4" fill="none" stroke="#2b5287" stroke-width="1.45"/><rect x="657.77" y="409.2" width="4.4" height="4.4" fill="none" stroke="#2b5287" stroke-width="1.45"/><rect x="693.7" y="408.7" width="4.4" height="4.4" fill="none" stroke="#2b5287" stroke-width="1.45"/><rect x="729.62" y="408.3" width="4.4" height="4.4" fill="none" stroke="#2b5287" stroke-width="1.45"/><rect x="765.55" y="408.8" width="4.4" height="4.4" fill="none" stroke="#2b5287" stroke-width="1.45"/><rect x="801.47" y="410.6" width="4.4" height="4.4" fill="none" stroke="#2b5287" stroke-width="1.45"/><rect x="837.4" y="415.5" width="4.4" height="4.4" fill="none" stroke="#2b5287" stroke-width="1.45"/><circle cx="552.2" cy="454.9" r="3.2" fill="#2b5287"/><circle cx="588.12" cy="496.7" r="3.2" fill="#2b5287"/><circle cx="624.05" cy="508.4" r="3.2" fill="#2b5287"/><circle cx="659.98" cy="474.1" r="3.2" fill="#2b5287"/><circle cx="695.9" cy="433.9" r="3.2" fill="#2b5287"/><circle cx="731.83" cy="404" r="3.2" fill="#2b5287"/><circle cx="767.75" cy="384.2" r="3.2" fill="#2b5287"/><circle cx="803.67" cy="373" r="3.2" fill="#2b5287"/><circle cx="839.6" cy="366.2" r="3.2" fill="#2b5287"/><circle cx="552.2" cy="324.1" r="2.45" fill="none" stroke="#2b5287" stroke-width="1.45"/><circle cx="588.12" cy="313.7" r="2.45" fill="none" stroke="#2b5287" stroke-width="1.45"/><circle cx="624.05" cy="310.3" r="2.45" fill="none" stroke="#2b5287" stroke-width="1.45"/><circle cx="659.98" cy="313.7" r="2.45" fill="none" stroke="#2b5287" stroke-width="1.45"/><circle cx="695.9" cy="322" r="2.45" fill="none" stroke="#2b5287" stroke-width="1.45"/><circle cx="731.83" cy="333.2" r="2.45" fill="none" stroke="#2b5287" stroke-width="1.45"/><circle cx="767.75" cy="344.5" r="2.45" fill="none" stroke="#2b5287" stroke-width="1.45"/><circle cx="803.67" cy="353.9" r="2.45" fill="none" stroke="#2b5287" stroke-width="1.45"/><circle cx="839.6" cy="360.4" r="2.45" fill="none" stroke="#2b5287" stroke-width="1.45"/><path d="M552.2 424.9L555.55 428.8L552.2 432.7L548.85 428.8Z" fill="#cf4128"/><path d="M588.12 348.9L591.48 352.8L588.12 356.7L584.77 352.8Z" fill="#cf4128"/><path d="M624.05 323.4L627.4 327.3L624.05 331.2L620.7 327.3Z" fill="#cf4128"/><path d="M659.98 367L663.33 370.9L659.98 374.8L656.62 370.9Z" fill="#cf4128"/><path d="M695.9 420.4L699.25 424.3L695.9 428.2L692.55 424.3Z" fill="#cf4128"/><path d="M731.83 462.5L735.18 466.4L731.83 470.3L728.48 466.4Z" fill="#cf4128"/><path d="M767.75 489.7L771.1 493.6L767.75 497.5L764.4 493.6Z" fill="#cf4128"/><path d="M803.67 505.6L807.02 509.5L803.67 513.4L800.32 509.5Z" fill="#cf4128"/><path d="M839.6 515.2L842.95 519.1L839.6 523L836.25 519.1Z" fill="#cf4128"/><path d="M552.2 491.5L554.8 494.7L552.2 497.9L549.6 494.7Z" fill="none" stroke="#cf4128" stroke-width="1.45"/><path d="M588.12 451L590.73 454.2L588.12 457.4L585.52 454.2Z" fill="none" stroke="#cf4128" stroke-width="1.45"/><path d="M624.05 431.1L626.65 434.3L624.05 437.5L621.45 434.3Z" fill="none" stroke="#cf4128" stroke-width="1.45"/><path d="M659.98 431.5L662.58 434.7L659.98 437.9L657.38 434.7Z" fill="none" stroke="#cf4128" stroke-width="1.45"/><path d="M695.9 442.8L698.5 446L695.9 449.2L693.3 446Z" fill="none" stroke="#cf4128" stroke-width="1.45"/><path d="M731.83 457.7L734.43 460.9L731.83 464.1L729.23 460.9Z" fill="none" stroke="#cf4128" stroke-width="1.45"/><path d="M767.75 473.1L770.35 476.3L767.75 479.5L765.15 476.3Z" fill="none" stroke="#cf4128" stroke-width="1.45"/><path d="M803.67 482.4L806.27 485.6L803.67 488.8L801.07 485.6Z" fill="none" stroke="#cf4128" stroke-width="1.45"/><path d="M839.6 486.4L842.2 489.6L839.6 492.8L837 489.6Z" fill="none" stroke="#cf4128" stroke-width="1.45"/><text x="547" y="309.25" font-size="16" text-anchor="end">−2</text><text x="547" y="348.95" font-size="16" text-anchor="end">−4</text><text x="547" y="387.05" font-size="16" text-anchor="end">−6</text><text x="547" y="426.45" font-size="16" text-anchor="end">−8</text><text x="547" y="465.25" font-size="16" text-anchor="end">−10</text><text x="547" y="503.35" font-size="16" text-anchor="end">−12</text><text x="845.6" y="309.15" font-size="16">10</text><text x="845.6" y="360.85" font-size="16">8</text><text x="845.6" y="412.55" font-size="16">6</text><text x="845.6" y="464.55" font-size="16">4</text><text x="845.6" y="516.55" font-size="16">2</text><text x="551.2" y="536.55" font-size="16" text-anchor="middle" textLength="26.5" lengthAdjust="spacingAndGlyphs">0.24</text><text x="620.8" y="536.55" font-size="16" text-anchor="middle" textLength="26.5" lengthAdjust="spacingAndGlyphs">0.25</text><text x="691.2" y="536.55" font-size="16" text-anchor="middle" textLength="26.5" lengthAdjust="spacingAndGlyphs">0.26</text><text x="761.2" y="536.55" font-size="16" text-anchor="middle" textLength="26.5" lengthAdjust="spacingAndGlyphs">0.27</text><text x="830.9" y="536.55" font-size="16" text-anchor="middle" textLength="26.5" lengthAdjust="spacingAndGlyphs">0.28</text><text x="692.2" y="557" font-size="15" text-anchor="middle" textLength="106.5" lengthAdjust="spacingAndGlyphs">Frequency /THz</text><text transform="translate(519,416) rotate(-90)" x="0" y="0" font-size="15" text-anchor="middle" textLength="118" lengthAdjust="spacingAndGlyphs">Transmission /dB</text><text transform="translate(878.2,414) rotate(-90)" x="0" y="0" font-size="15" text-anchor="middle" textLength="47" lengthAdjust="spacingAndGlyphs">ER /dB</text><text x="561.4" y="333.6" font-size="16" textLength="20" lengthAdjust="spacingAndGlyphs">(d)</text><line x1="867.1" y1="294.7" x2="894.5" y2="294.7" stroke="#2f5080" stroke-width="1.5"/><rect x="877.88" y="291.78" width="5.83" height="5.83" fill="#2b5287"/><text x="896.1" y="298.7" class="lg" font-size="12.5" textLength="77.8" lengthAdjust="spacingAndGlyphs"><tspan font-style="italic">x</tspan>-polarized, P2</text><line x1="867.1" y1="309.4" x2="894.5" y2="309.4" stroke="#2f5080" stroke-width="1.5" stroke-dasharray="6.5 16.2 6"/><rect x="878.16" y="306.76" width="5.28" height="5.28" fill="none" stroke="#2b5287" stroke-width="1.45"/><text x="896.1" y="313.4" class="lg" font-size="12.5" textLength="77.8" lengthAdjust="spacingAndGlyphs"><tspan font-style="italic">x</tspan>-polarized, P3</text><line x1="867.1" y1="324.2" x2="894.5" y2="324.2" stroke="#2f5080" stroke-width="1.4" stroke-dasharray="1.2 1.0"/><circle cx="880.8" cy="324.2" r="2.88" fill="#2b5287"/><text x="896.1" y="328.2" class="lg" font-size="12.5" textLength="77.8" lengthAdjust="spacingAndGlyphs"><tspan font-style="italic">y</tspan>-polarized, P2</text><line x1="867.1" y1="339.1" x2="894.5" y2="339.1" stroke="#2f5080" stroke-width="1.5" stroke-dasharray="6.6 11.4 6.4 10"/><circle cx="880.8" cy="339.1" r="2.82" fill="none" stroke="#2b5287" stroke-width="1.45"/><text x="896.1" y="343.1" class="lg" font-size="12.5" textLength="77.8" lengthAdjust="spacingAndGlyphs"><tspan font-style="italic">y</tspan>-polarized, P3</text><line x1="867.1" y1="355.3" x2="894.5" y2="355.3" stroke="#c23c2e" stroke-width="1.4"/><path d="M880.8 350.62L884.82 355.3L880.8 359.98L876.78 355.3Z" fill="#cf4128"/><text x="896.1" y="359.3" class="lg" font-size="12.5" textLength="35.5" lengthAdjust="spacingAndGlyphs">P2, ER</text><line x1="867.1" y1="370.4" x2="894.5" y2="370.4" stroke="#c23c2e" stroke-width="1.4" stroke-dasharray="6.5 16.2 6"/><path d="M880.8 366.24L884.18 370.4L880.8 374.56L877.42 370.4Z" fill="none" stroke="#cf4128" stroke-width="1.45"/><text x="896.1" y="374.4" class="lg" font-size="12.5" textLength="35.5" lengthAdjust="spacingAndGlyphs">P3, ER</text></g>
</svg></body></html>
